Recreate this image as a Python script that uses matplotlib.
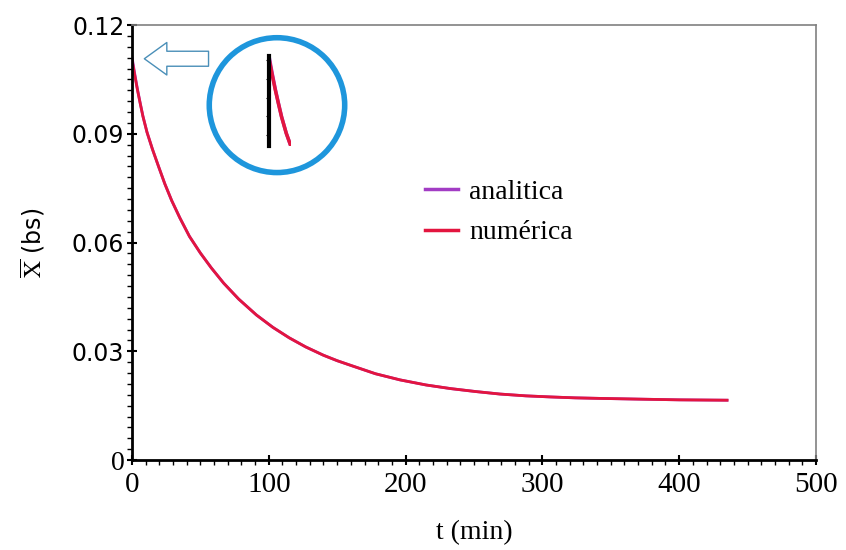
import matplotlib
matplotlib.use("Agg")
import matplotlib.pyplot as plt
from matplotlib.patches import Ellipse
from matplotlib.ticker import MultipleLocator, FixedLocator

# ---- data ----
t_min = [0, 2, 4, 6, 8, 11, 15, 19.5, 24, 29, 35, 42, 50, 58, 67, 78, 91,
         103, 115, 127, 140, 150, 160, 178, 196, 215, 233, 251, 269, 288,
         306, 324, 342, 370, 400, 435]
x_numerica = [0.1105, 0.1062, 0.1021, 0.0984, 0.0948, 0.0904, 0.0857, 0.0809,
              0.0762, 0.0716, 0.0668, 0.0617, 0.0571, 0.0530, 0.0488, 0.0444,
              0.0400, 0.0366, 0.0337, 0.0312, 0.0289, 0.0274, 0.0261, 0.0238,
              0.0221, 0.0207, 0.0197, 0.0189, 0.0182, 0.0177, 0.0174, 0.01715,
              0.0170, 0.0168, 0.0166, 0.0165]
x_analitica = [0.1112, 0.1066, 0.1023, 0.0985, 0.0949, 0.0904, 0.0857, 0.0809,
               0.0762, 0.0716, 0.0668, 0.0617, 0.0571, 0.0530, 0.0488, 0.0444,
               0.0400, 0.0366, 0.0337, 0.0312, 0.0289, 0.0274, 0.0261, 0.0238,
               0.0221, 0.0207, 0.0197, 0.0189, 0.0182, 0.0177, 0.0174, 0.01715,
               0.0170, 0.0168, 0.0166, 0.0165]
y_ticks = [0, 0.03, 0.06, 0.09, 0.12]
y_ticklabels = ["0", "0.03", "0.06", "0.09", "0.12"]
x_ticks = [0, 100, 200, 300, 400, 500]
x_ticklabels = ["0", "100", "200", "300", "400", "500"]
series_names = ["analitica", "numérica"]

PURPLE = "#A23CC4"
RED = "#E3153F"
BLUE = "#1E96DC"

plt.rcParams["mathtext.fontset"] = "stix"
serif = "Liberation Serif"
sans = "DejaVu Sans"

fig = plt.figure(figsize=(8.46, 5.5), dpi=100)
ax = fig.add_axes([0.156, 0.1636, 0.8085, 0.7909])

ax.plot(t_min, x_analitica, color=PURPLE, lw=2.0, label=series_names[0])
ax.plot(t_min, x_numerica, color=RED, lw=2.0, label=series_names[1])

ax.set_xlim(0, 500)
ax.set_ylim(0, 0.12)
ax.xaxis.set_major_locator(FixedLocator(x_ticks))
ax.yaxis.set_major_locator(FixedLocator(y_ticks))
ax.set_xticklabels(x_ticklabels, fontsize=21, family=serif)
ax.set_yticklabels(y_ticklabels, fontsize=17, family=sans)
ax.get_yticklabels()[0].set_family(serif)
ax.get_yticklabels()[0].set_fontsize(20)
ax.xaxis.set_minor_locator(MultipleLocator(10))
ax.yaxis.set_minor_locator(MultipleLocator(0.003))
ax.tick_params(which="major", direction="inout", length=7, width=1.5, pad=2,
               top=False, right=False)
ax.tick_params(axis="x", which="major", pad=5)
ax.tick_params(which="minor", direction="out", length=3.5, width=1,
               top=False, right=False)

for s in ["left", "bottom"]:
    ax.spines[s].set_linewidth(2)
    ax.spines[s].set_color("black")
for s in ["top", "right"]:
    ax.spines[s].set_linewidth(1.2)
    ax.spines[s].set_color("#808080")

ax.set_xlabel("t (min)", fontsize=20, family=serif, labelpad=16)
ax.set_ylabel(r"$\overline{\mathrm{X}}$ (bs)", fontsize=17, family=sans, labelpad=18)

leg = ax.legend(loc="upper left", bbox_to_anchor=(0.40, 0.69), frameon=False,
                prop={"family": serif, "size": 20}, handlelength=1.2,
                handletextpad=0.4, labelspacing=0.55, borderpad=0.2)
for h in leg.get_lines():
    h.set_linewidth(2.5)

# hollow arrow pointing to the start of the curve
ax.annotate("", xy=(7, 0.1107), xytext=(58, 0.1107),
            arrowprops=dict(arrowstyle="simple,head_length=0.9,head_width=1.3,tail_width=0.6",
                            fc="white", ec="#4A8FB8", lw=1.0, mutation_scale=18))

# blue circle around the zoomed view
ax.add_patch(Ellipse((106, 0.0979), 99, 0.0372, fill=False, ec=BLUE, lw=4,
                     clip_on=False))

# tiny zoomed view inside the circle
ins = fig.add_axes([269 / 846, (550 - 146) / 550, 22 / 846, 90 / 550])
ins.patch.set_alpha(0)
ins.plot(t_min, x_analitica, color=PURPLE, lw=2.5)
ins.plot(t_min, x_numerica, color=RED, lw=2.5)
ins.set_xlim(0, 14)
ins.set_ylim(0.087, 0.1112)
ins.set_xticks([])
ins.yaxis.set_major_locator(MultipleLocator(0.005))
ins.tick_params(axis="y", direction="out", length=2, width=0.8, labelleft=False)
for s in ["top", "right", "bottom"]:
    ins.spines[s].set_visible(False)
ins.spines["left"].set_linewidth(3)
ins.spines["left"].set_color("black")

fig.savefig("out.png", dpi=100)
